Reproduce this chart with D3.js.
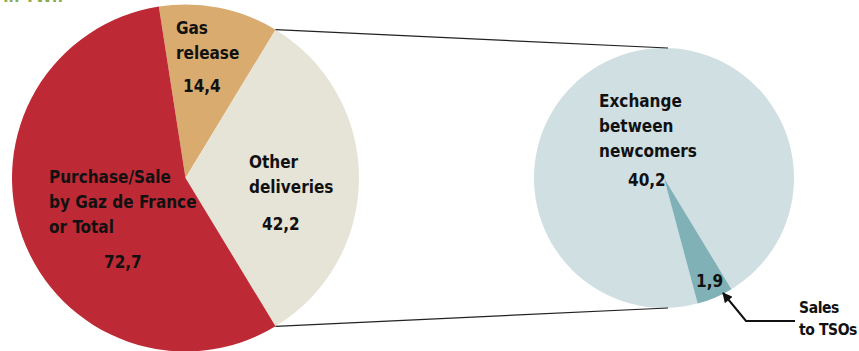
<!DOCTYPE html>
<html>
<head>
<meta charset="utf-8">
<script src="https://cdn.jsdelivr.net/npm/d3@7"></script>
<style>
  html, body { margin: 0; padding: 0; background: #fff; }
  svg { display: block; }
  .lbl { font-family: "Liberation Sans Narrow", "DejaVu Sans Condensed", "Roboto", sans-serif; font-weight: bold; font-size: 17px; fill: #111; }
</style>
</head>
<body>
<svg id="chart" width="859" height="351"></svg>
<script>
// Main pie: gas deliveries (TWh)
const mainCategories = ["Gas release", "Other deliveries", "Purchase/Sale by Gaz de France or Total"];
const mainValues = [14.4, 42.2, 72.7];
const mainLabels = ["14,4", "42,2", "72,7"];
const mainColors = ["#D9AB6E", "#E6E3D7", "#BD2A36"];

// Secondary pie: breakdown of "Other deliveries"
const subCategories = ["Exchange between newcomers", "Sales to TSOs"];
const subValues = [40.2, 1.9];
const subLabels = ["40,2", "1,9"];
const subColors = ["#CFDFE2", "#80B1B6"];

const svg = d3.select("#chart");
const deg = Math.PI / 180;

// Geometry
const c1 = { x: 185.5, y: 178, r: 173.5 };
const c2 = { x: 664, y: 178, r: 130 };

// Title (runs off the top edge)
svg.append("text")
  .attr("x", 63).attr("y", 2)
  .attr("text-anchor", "end")
  .style("font-family", "Liberation Sans Narrow, DejaVu Sans Condensed, sans-serif")
  .style("font-weight", "bold").style("font-size", "17px")
  .style("fill", "#8EAA55")
  .text("Volume in TWh");

// Main pie, rotated so the exploded slice faces the secondary pie
const mainTotal = d3.sum(mainValues);
const mainStart = Math.PI / 2 - (mainValues[0] + mainValues[1] / 2) / mainTotal * 2 * Math.PI;
const pie1 = d3.pie().sort(null).startAngle(mainStart).endAngle(mainStart + 2 * Math.PI);
const arcs1 = pie1(mainValues);
const arc1 = d3.arc().innerRadius(0).outerRadius(c1.r);

const g1 = svg.append("g").attr("transform", `translate(${c1.x},${c1.y})`);
g1.selectAll("path").data(arcs1).join("path")
  .attr("d", arc1)
  .attr("fill", (d, i) => mainColors[i]);

// Secondary pie
const subStart = 165 * deg;
const pie2 = d3.pie().sort(null).startAngle(subStart).endAngle(subStart + 2 * Math.PI);
const arcs2 = pie2(subValues);
const arc2 = d3.arc().innerRadius(0).outerRadius(c2.r);

const g2 = svg.append("g").attr("transform", `translate(${c2.x},${c2.y})`);
g2.selectAll("path").data(arcs2).join("path")
  .attr("d", arc2)
  .attr("fill", (d, i) => subColors[i]);

// Connector lines from the "Other deliveries" slice to the secondary pie
const other = arcs1[1];
const pt = (c, a) => [c.x + c.r * Math.sin(a), c.y - c.r * Math.cos(a)];
const pA = pt(c1, other.startAngle), pB = pt(c1, other.endAngle);
svg.append("line")
  .attr("x1", pA[0]).attr("y1", pA[1]).attr("x2", c2.x + 4).attr("y2", c2.y - c2.r)
  .attr("stroke", "#222").attr("stroke-width", 1.2);
svg.append("line")
  .attr("x1", pB[0]).attr("y1", pB[1]).attr("x2", c2.x + 4).attr("y2", c2.y + c2.r)
  .attr("stroke", "#222").attr("stroke-width", 1.2);

// Labels
function multiline(x, y, lines, step) {
  const t = svg.append("text").attr("class", "lbl");
  lines.forEach((s, i) => t.append("tspan").attr("x", x).attr("y", y + i * step).text(s));
  return t;
}
multiline(176, 34, ["Gas", "release"], 25);
svg.append("text").attr("class", "lbl").attr("x", 183).attr("y", 92).text(mainLabels[0]);

multiline(249, 168, ["Other", "deliveries"], 25);
svg.append("text").attr("class", "lbl").attr("x", 262).attr("y", 230).text(mainLabels[1]);

multiline(49, 183, ["Purchase/Sale", "by Gaz de France", "or Total"], 25);
svg.append("text").attr("class", "lbl").attr("x", 104).attr("y", 268).text(mainLabels[2]);

multiline(599, 107, ["Exchange", "between", "newcomers"], 25);
svg.append("text").attr("class", "lbl").attr("x", 628).attr("y", 186).text(subLabels[0]);

svg.append("text").attr("class", "lbl").attr("x", 696).attr("y", 287).text(subLabels[1]);

// Callout label near the right edge, sized to stay inside the frame
multiline(799, 313, ["Sales", "to TSOs"], 22)
  .style("font-size", "15.5px")
  .style("letter-spacing", "-0.4px");

// Callout arrow to the small slice
svg.append("defs").append("marker")
  .attr("id", "ah").attr("viewBox", "0 0 10 10")
  .attr("refX", 9).attr("refY", 5)
  .attr("markerWidth", 6).attr("markerHeight", 5)
  .attr("orient", "auto")
  .append("path").attr("d", "M0,0 L10,5 L0,10 Z").attr("fill", "#111");
svg.append("path")
  .attr("d", "M795,321 L746,321 L723,293")
  .attr("fill", "none").attr("stroke", "#111").attr("stroke-width", 2)
  .attr("marker-end", "url(#ah)");
</script>
</body>
</html>
